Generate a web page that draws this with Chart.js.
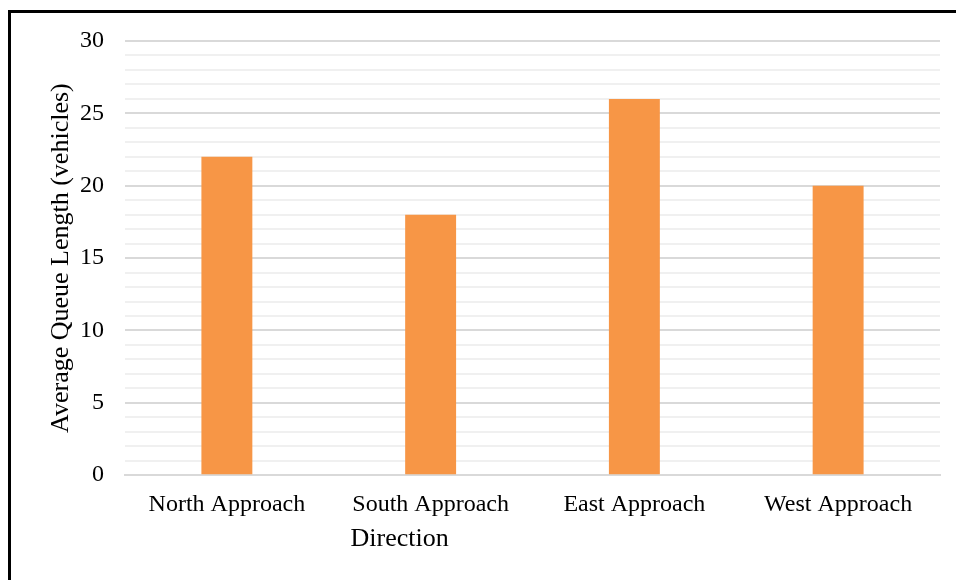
<!DOCTYPE html>
<html>
<head>
<meta charset="utf-8">
<script src="https://cdn.jsdelivr.net/npm/chart.js@4"></script>
<style>
  html, body { margin: 0; padding: 0; background: #fff; overflow: hidden; }
  #frame { position: absolute; left: 8px; top: 10px; width: 1000px; height: 600px;
           border-top: 3px solid #000; border-left: 3px solid #000; }
  #wrap { position: absolute; left: 0; top: 0; width: 956px; height: 580px; }
</style>
</head>
<body>
<div id="frame"></div>
<div id="wrap"><canvas id="myChart"></canvas></div>
<script>
const directions = ["North Approach", "South Approach", "East Approach", "West Approach"];
const queueLengths = [22, 18, 26, 20];
const yMin = 0, yMax = 30, yStep = 1, yLabelStep = 5;
const xTitle = "Direction";
const yTitle = "Average Queue Length (vehicles)";

// x-axis title sits left of centre in the original, so draw it ourselves
const xTitlePlugin = {
    id: "xTitle",
    afterDraw(chart) {
        const { ctx, chartArea } = chart;
        ctx.save();
        ctx.font = "26px 'Liberation Serif'";
        ctx.fillStyle = "#000";
        ctx.textAlign = "center";
        ctx.textBaseline = "middle";
        const x = chartArea.left + (chartArea.right - chartArea.left) * 0.337;
        ctx.fillText(xTitle, x, chartArea.bottom + 64);
        ctx.restore();
    }
};

const ctx = document.getElementById("myChart").getContext("2d");
new Chart(ctx, {
    type: "bar",
    data: {
        labels: directions,
        datasets: [{
            label: "Average Queue Length",
            data: queueLengths,
            backgroundColor: "#f79646",
            categoryPercentage: 0.25,
            barPercentage: 1.0
        }]
    },
    options: {
        responsive: true,
        maintainAspectRatio: false,
        animation: false,
        layout: { padding: { left: 42, top: 41, right: 16, bottom: 46 } },
        plugins: { legend: { display: false }, tooltip: { enabled: false } },
        scales: {
            x: {
                grid: { display: false, drawTicks: false },
                border: { display: true, color: "#d9d9d9", width: 2 },
                ticks: { color: "#000", padding: 15, font: { family: "Liberation Serif", size: 24 } }
            },
            y: {
                min: yMin, max: yMax,
                afterFit: s => { s.width = 83; },
                grid: {
                    drawTicks: false,
                    color: c => c.tick.value % yLabelStep === 0 ? "#d9d9d9" : "#f0f0f0",
                    lineWidth: 2
                },
                border: { display: false },
                ticks: {
                    stepSize: yStep, autoSkip: false, color: "#000", padding: 21,
                    font: { family: "Liberation Serif", size: 24 },
                    callback: v => v % yLabelStep === 0 ? v : ""
                },
                title: { display: true, text: yTitle, color: "#000",
                         padding: { top: 4, bottom: 6 }, font: { family: "Liberation Serif", size: 26 } }
            }
        }
    },
    plugins: [xTitlePlugin]
});
</script>
</body>
</html>
